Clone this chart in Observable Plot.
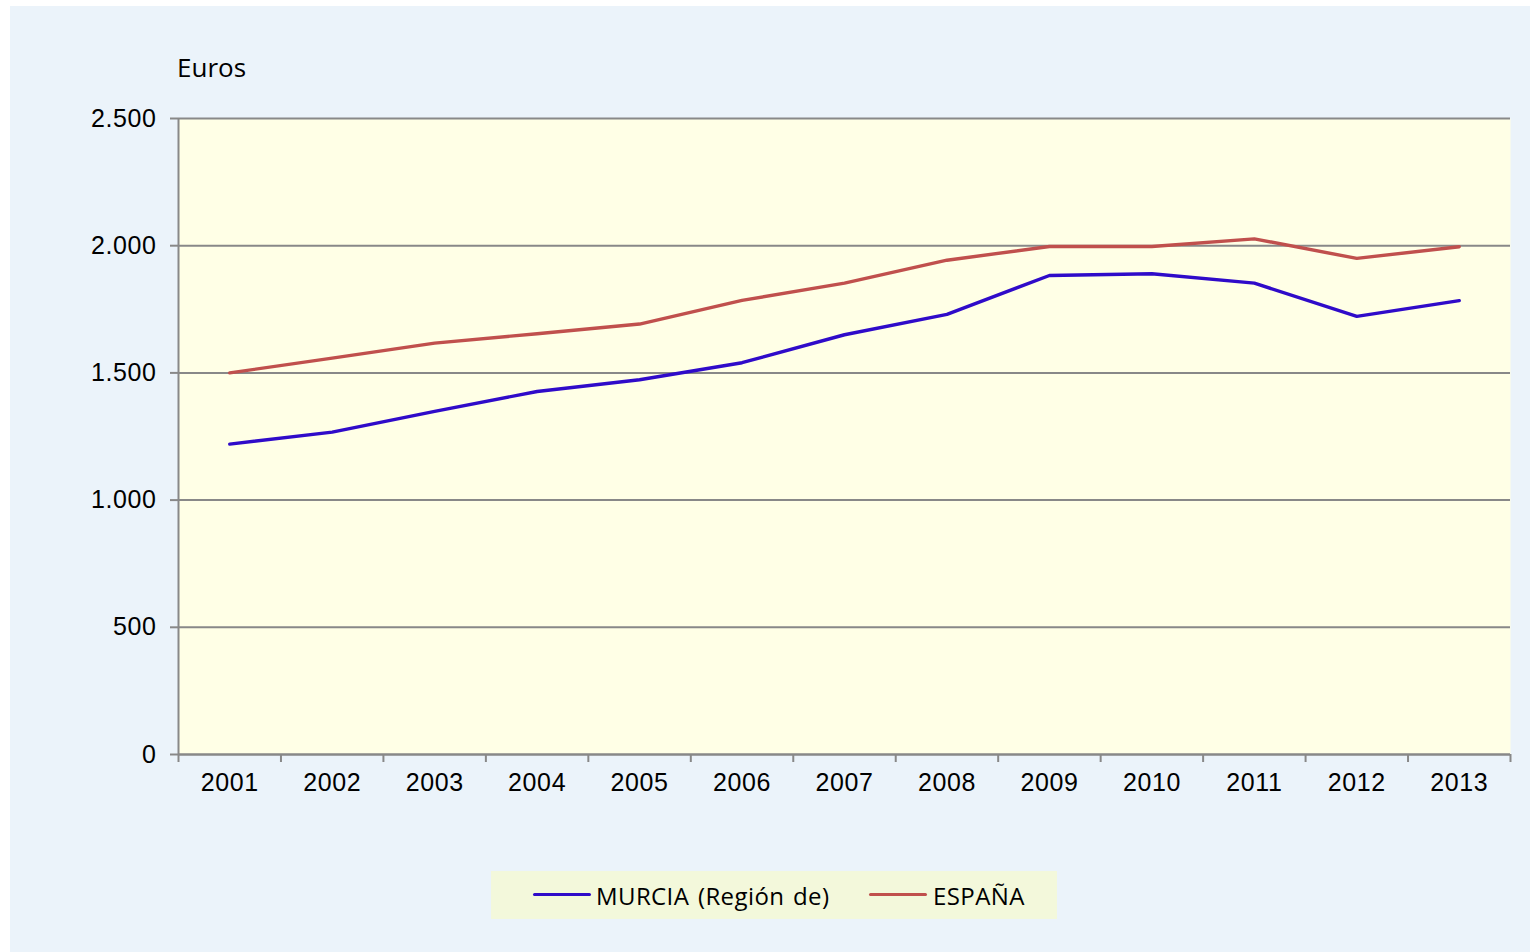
<!DOCTYPE html>
<html>
<head>
<meta charset="utf-8">
<script src="https://cdn.jsdelivr.net/npm/d3@7"></script>
<script src="https://cdn.jsdelivr.net/npm/@observablehq/plot@0.6"></script>
<style>
  body { margin: 0; background: #ffffff; }
  #chart { position: absolute; left: 10px; top: 6px; width: 1520px; height: 946px; background: #EBF3FA; overflow: hidden; }
  #ylabel { position: absolute; left: 167px; top: 43px; font: 26px "Open Sans", sans-serif; color: #000; }
  #plot { position: absolute; left: 0; top: 84px; }
  #legend { position: absolute; left: 481px; top: 865px; width: 566px; height: 48px; background: #F3F8DB; font: 24px "Open Sans", sans-serif; letter-spacing: 0.4px; word-spacing: 2px; color: #000; }
  .sw { position: absolute; top: 22px; width: 58px; height: 3px; border-radius: 2px; }
  .lt { position: absolute; top: 9px; white-space: nowrap; line-height: 32px; }
</style>
</head>
<body>
<div id="chart">
  <div id="ylabel">Euros</div>
  <div id="plot"></div>
  <div id="legend"></div>
</div>
<script>
const years = [2001, 2002, 2003, 2004, 2005, 2006, 2007, 2008, 2009, 2010, 2011, 2012, 2013];
const murcia = [1220, 1267, 1349, 1427, 1473, 1540, 1650, 1730, 1883, 1890, 1853, 1722, 1784];
const espana = [1500, 1558, 1617, 1654, 1692, 1785, 1853, 1943, 1997, 1997, 2027, 1950, 1996];
const seriesNames = ["MURCIA (Región de)", "ESPAÑA"];
const seriesColors = ["#2F0BC9", "#C0504D"];
const yTicks = [0, 500, 1000, 1500, 2000, 2500];

const rows = [];
years.forEach((y, i) => {
  rows.push({year: y, value: murcia[i], serie: seriesNames[0]});
  rows.push({year: y, value: espana[i], serie: seriesNames[1]});
});
const xDomain = [years[0] - 0.5, years[years.length - 1] + 0.5];
const boundaries = years.map(y => y - 0.5).concat([xDomain[1]]);
const fmt = d => d3.format(",")(d).replace(/,/g, ".");
const gray = "#888888";

const chart = Plot.plot({
  width: 1520,
  height: 724,
  marginTop: 28,
  marginBottom: 60,
  marginLeft: 168,
  marginRight: 20,
  style: {background: "transparent", fontSize: "25px", letterSpacing: "0.6px", fontFamily: "'Liberation Sans', Arial, sans-serif", color: "#000"},
  x: {type: "linear", domain: xDomain},
  y: {domain: [0, 2500]},
  color: {domain: seriesNames, range: seriesColors},
  marks: [
    Plot.frame({fill: "#FFFFE6", stroke: null}),
    Plot.gridY(yTicks, {stroke: gray, strokeOpacity: 1, strokeWidth: 2}),
    Plot.ruleX([xDomain[0]], {stroke: gray, strokeWidth: 2}),
    Plot.ruleY([0], {stroke: gray, strokeWidth: 2}),
    Plot.axisY({ticks: yTicks, tickSize: 8, tickPadding: 14, tickFormat: fmt, stroke: gray, strokeWidth: 2, label: null}),
    Plot.axisX({ticks: boundaries, tickSize: 8, tickFormat: () => "", stroke: gray, strokeWidth: 2, label: null}),
    Plot.axisX({ticks: years, tickSize: 0, tickPadding: 19, tickFormat: d => String(d), label: null}),
    Plot.line(rows, {x: "year", y: "value", z: "serie", stroke: "serie", strokeWidth: 3.4, strokeLinejoin: "round"})
  ]
});
document.getElementById("plot").appendChild(chart);

const legend = document.getElementById("legend");
const swX = [42, 378];
const txX = [105, 442];
seriesNames.forEach((name, i) => {
  const sw = document.createElement("div");
  sw.className = "sw";
  sw.style.left = swX[i] + "px";
  sw.style.background = seriesColors[i];
  legend.appendChild(sw);
  const t = document.createElement("div");
  t.className = "lt";
  t.style.left = txX[i] + "px";
  t.textContent = name;
  legend.appendChild(t);
});
</script>
</body>
</html>
